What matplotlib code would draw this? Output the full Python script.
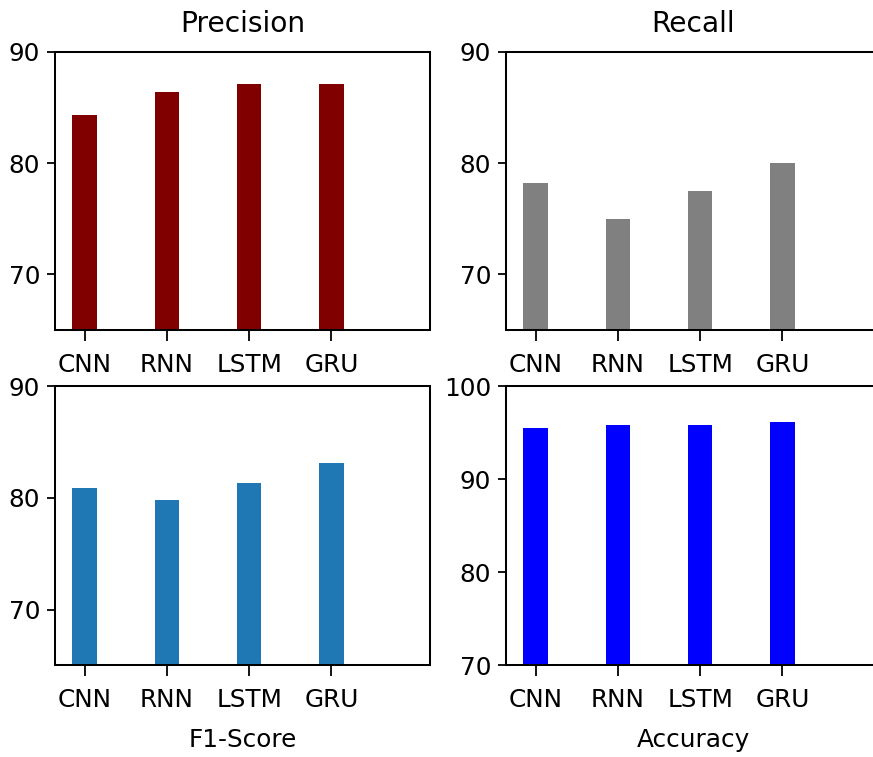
"""
Bar charts of precision, recall, F1-score and accuracy for four models.

Output:
- out.png
"""

import matplotlib.pyplot as plt
import numpy as np

models = ["CNN", "RNN", "LSTM", "GRU"]

precision = [84.3, 86.35, 87.1, 87.1]
recall = [78.25, 75.0, 77.5, 80.0]
f1_score = [80.85, 79.85, 81.35, 83.1]
accuracy = [95.55, 95.85, 95.85, 96.15]

TICK_SIZE = 11


def draw_metric(ax, values, color, ylim, yticks, title=None, xlabel=None):
    x = np.arange(len(models))
    ax.bar(x, values, width=0.3, color=color)
    ax.set_xticks(x)
    ax.set_xticklabels(models)
    ax.set_xlim(-0.36, 4.2)
    ax.set_ylim(*ylim)
    ax.set_yticks(yticks)
    ax.tick_params(axis="x", length=5, pad=5, labelsize=TICK_SIZE)
    ax.tick_params(axis="y", length=3.5, pad=3, labelsize=TICK_SIZE)
    for spine in ax.spines.values():
        spine.set_linewidth(0.9)
    if title:
        ax.set_title(title, fontsize=12.5, pad=9)
    if xlabel:
        ax.set_xlabel(xlabel, fontsize=11, labelpad=7)


def main() -> None:
    fig = plt.figure(figsize=(873 / 162, 757 / 162), dpi=162)

    ax_p = fig.add_axes([0.063, 0.564, 0.4296, 0.3676])
    ax_r = fig.add_axes([0.5796, 0.564, 0.4296, 0.3676])
    ax_f = fig.add_axes([0.063, 0.1209, 0.4296, 0.369])
    ax_a = fig.add_axes([0.5796, 0.1209, 0.4296, 0.369])

    draw_metric(ax_p, precision, "maroon", (65, 90), [70, 80, 90], title="Precision")
    draw_metric(ax_r, recall, "grey", (65, 90), [70, 80, 90], title="Recall")
    draw_metric(ax_f, f1_score, "tab:blue", (65, 90), [70, 80, 90], xlabel="F1-Score")
    draw_metric(ax_a, accuracy, "blue", (70, 100), [70, 80, 90, 100], xlabel="Accuracy")

    fig.savefig("out.png", dpi=162)
    plt.close(fig)


if __name__ == "__main__":
    main()
